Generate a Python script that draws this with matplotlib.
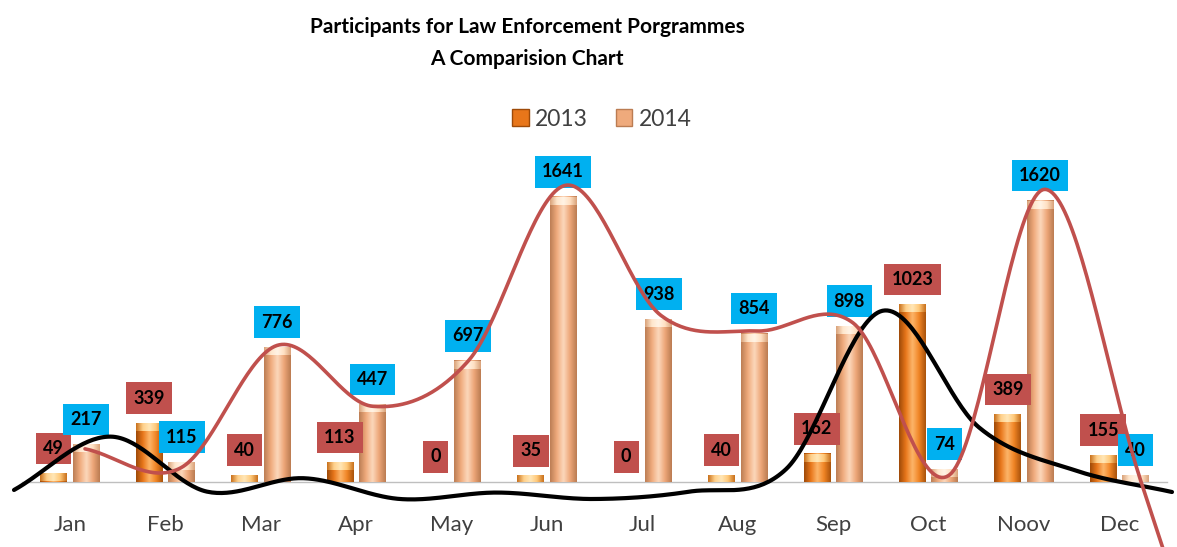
import numpy as np
import matplotlib.pyplot as plt
from matplotlib.colors import LinearSegmentedColormap
from matplotlib.patches import Patch

# data
months = ["Jan", "Feb", "Mar", "Apr", "May", "Jun", "Jul", "Aug", "Sep", "Oct", "Noov", "Dec"]
y2013 = [49, 339, 40, 113, 0, 35, 0, 40, 162, 1023, 389, 155]
y2014 = [217, 115, 776, 447, 697, 1641, 938, 854, 898, 74, 1620, 40]

W, H = 1177, 547
FONT = "Lato"

c13 = LinearSegmentedColormap.from_list("c13", ["#9E4A08", "#E8761A", "#FDB66A", "#F08424", "#A9530C"])
c14 = LinearSegmentedColormap.from_list("c14", ["#BC7E55", "#EFAA7C", "#FCD8BC", "#EDA678", "#BB7C52"])
cap13 = LinearSegmentedColormap.from_list("k13", ["#C8701C", "#FFD08A", "#FFE7B8", "#FFC878", "#C8701C"])
cap14 = LinearSegmentedColormap.from_list("k14", ["#D9A27A", "#FFE6CC", "#FFF4E6", "#FFE0C2", "#D9A27A"])


def smooth(vals, tail=0.0, n=40):
    """Catmull-Rom style smoothing, like a spreadsheet 'smoothed line'.
    tail > 0 adds one extra segment past the last point."""
    p = list(map(float, vals))
    if tail:
        p.append(p[-1] + tail * (p[-1] - p[-2]))
    ext = [2 * p[0] - p[1]] + p + [2 * p[-1] - p[-2]]
    xs, ys = [], []
    for i in range(len(p) - 1):
        p0, p1 = p[i], p[i + 1]
        m0 = (ext[i + 2] - ext[i]) / 2
        m1 = (ext[i + 3] - ext[i + 1]) / 2
        t = np.linspace(0, 1, n)
        h00 = 2 * t**3 - 3 * t**2 + 1
        h10 = t**3 - 2 * t**2 + t
        h01 = -2 * t**3 + 3 * t**2
        h11 = t**3 - t**2
        xs.append(i + t)
        ys.append(h00 * p0 + h10 * m0 + h01 * p1 + h11 * m1)
    return np.concatenate(xs), np.concatenate(ys)


fig = plt.figure(figsize=(W / 100, H / 100), dpi=100)
fig.patch.set_facecolor("white")

# ---- bars ----
ax = fig.add_axes([0, 0, 1, 1])
ax.axis("off")
x = np.arange(len(months))
bw = 0.28
off = 0.17
ppu = 0.1737          # pixels per unit
cap_h = 8 / ppu

grad = np.linspace(0, 1, 64).reshape(1, -1)
for i in range(len(months)):
    for v, dx, cm, cp in [(y2013[i], -off, c13, cap13), (y2014[i], off, c14, cap14)]:
        if v <= 0:
            continue
        x0, x1 = x[i] + dx - bw / 2, x[i] + dx + bw / 2
        ax.imshow(grad, cmap=cm, extent=[x0, x1, 0, v], aspect="auto",
                  interpolation="bicubic", zorder=2)
        ch = min(cap_h, v)
        ax.imshow(grad, cmap=cp, extent=[x0, x1, v - ch, v], aspect="auto",
                  interpolation="bicubic", zorder=2.1)

ax.plot([-0.5, 11.5], [0, 0], color="#BFBFBF", lw=1, zorder=1)

for i, m in enumerate(months):
    ax.text(i, -250, m, ha="center", va="center", fontsize=16,
            color="#404040", family=FONT)

for i in range(len(months)):
    ax.annotate(str(y2013[i]), (x[i] - off, y2013[i]), xytext=(0, 18),
                textcoords="offset points", ha="center", va="center",
                fontsize=13, fontweight="bold", family=FONT, color="black",
                bbox=dict(boxstyle="square,pad=0.4", fc="#C0504D", ec="none"),
                zorder=4)
for i in range(len(months)):
    ax.annotate(str(y2014[i]), (x[i] + off, y2014[i]), xytext=(0, 18),
                textcoords="offset points", ha="center", va="center",
                fontsize=13, fontweight="bold", family=FONT, color="black",
                bbox=dict(boxstyle="square,pad=0.4", fc="#00B0F0", ec="none"),
                zorder=5)

ax.set_xlim(-70 / 95.4, (W - 70) / 95.4)
ax.set_ylim(-(H - 482) / ppu, 482 / ppu)

# ---- smoothed lines (own axes, like a secondary axis) ----
axb = fig.add_axes([0, 0, 1, 1])
axb.axis("off")
bx, by = smooth(y2013, tail=0.5)
axb.plot(bx, by, color="black", lw=3, solid_capstyle="round")
axb.set_xlim(-14 / 96.5, (W - 14) / 96.5)
axb.set_ylim(-(H - 499) / 0.184, 499 / 0.184)

axr = fig.add_axes([0, 0, 1, 1])
axr.axis("off")
rx, ry = smooth(y2014, tail=1.0)
axr.plot(rx, ry, color="#C0504D", lw=2.6, solid_capstyle="round")
axr.set_xlim(-85 / 96.0, (W - 85) / 96.0)
axr.set_ylim(-(H - 489) / 0.185, 489 / 0.185)

# ---- title and legend ----
fig.text(527 / W, 1 - 27 / H, "Participants for Law Enforcement Porgrammes",
         ha="center", va="center", fontsize=15, fontweight="bold",
         family=FONT, color="black")
fig.text(527 / W, 1 - 59 / H, "A Comparision Chart",
         ha="center", va="center", fontsize=15, fontweight="bold",
         family=FONT, color="black")

handles = [Patch(facecolor="#E8761A", edgecolor="#9E4A08", label="2013"),
           Patch(facecolor="#EFAA7C", edgecolor="#BB7C52", label="2014")]
fig.legend(handles=handles, loc="center", bbox_to_anchor=(602 / W, 1 - 119 / H),
           ncol=2, frameon=False, prop={"family": FONT, "size": 16.5},
           handlelength=0.7, handleheight=0.7, handletextpad=0.3,
           columnspacing=1.2, labelcolor="#404040")

fig.savefig("out.png", dpi=100, facecolor="white")
